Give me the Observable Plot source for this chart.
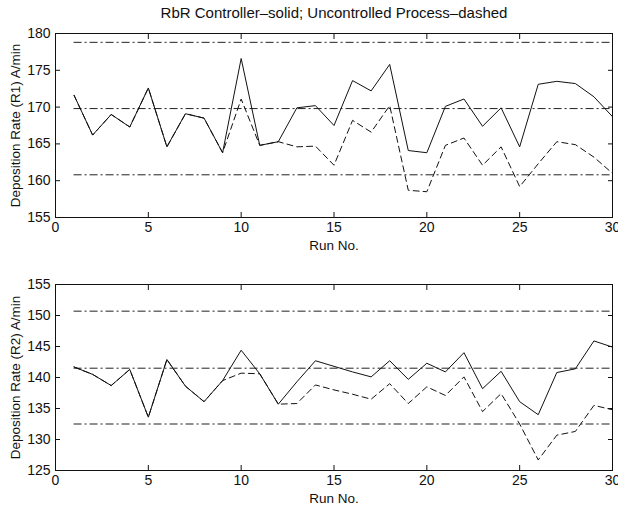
<!DOCTYPE html>
<html><head><meta charset="utf-8">
<script src="https://cdn.jsdelivr.net/npm/d3@7"></script>
<script src="https://cdn.jsdelivr.net/npm/@observablehq/plot@0.6"></script>
<style>body{margin:0;background:#fff;} #chart svg{display:block;overflow:visible;}</style>
</head><body><div id="chart"></div>
<script>
const title = "RbR Controller\u2013solid; Uncontrolled Process\u2013dashed";
const xLabel = "Run No.";
const runs = [1,2,3,4,5,6,7,8,9,10,11,12,13,14,15,16,17,18,19,20,21,22,23,24,25,26,27,28,29,30];
const xTicks = [0,5,10,15,20,25,30];

const r1Label = "Deposition Rate (R1) A/min";
const r1Ticks = [155,160,165,170,175,180];
const r1Controlled = [171.6,166.2,169.0,167.3,172.6,164.6,169.1,168.5,163.8,176.6,164.8,165.3,169.9,170.2,167.5,173.6,172.2,175.8,164.1,163.8,170.1,171.1,167.4,169.9,164.6,173.1,173.5,173.2,171.4,168.7];
const r1Uncontrolled = [171.6,166.2,169.0,167.3,172.6,164.6,169.1,168.5,163.8,171.1,164.8,165.3,164.6,164.7,162.1,168.2,166.6,170.2,158.7,158.5,164.8,165.8,162.1,164.6,159.2,162.3,165.3,164.9,163.2,161.0];
const r1Limits = [178.8,169.8,160.8];

const r2Label = "Deposition Rate (R2) A/min";
const r2Ticks = [125,130,135,140,145,150,155];
const r2Controlled = [141.7,140.5,138.7,141.3,133.6,142.9,138.6,136.1,139.5,144.4,140.6,135.7,139.3,142.7,141.8,140.9,140.1,142.7,139.7,142.3,140.9,144.0,138.2,141.0,136.1,134.0,140.8,141.4,145.9,144.9];
const r2Uncontrolled = [141.7,140.5,138.7,141.3,133.6,142.9,138.6,136.1,139.5,140.7,140.6,135.7,135.8,138.8,138.0,137.3,136.5,139.0,135.8,138.5,137.1,140.1,134.5,137.4,132.5,126.7,130.7,131.3,135.5,134.8];
const r2Limits = [150.7,141.5,132.5];

function panel({yTicks, controlled, uncontrolled, limits, yLabel, heading, height, marginTop, marginBottom}) {
  const ctl = runs.map((r, i) => ({run: r, value: controlled[i]}));
  const unc = runs.map((r, i) => ({run: r, value: uncontrolled[i]}));
  const ink = "#111";
  return Plot.plot({
    width: 618, height, marginLeft: 55, marginRight: 6, marginTop, marginBottom,
    style: {fontFamily: "'Liberation Sans', Arial, sans-serif", fontSize: "13px", color: ink, background: "#fff"},
    x: {domain: [xTicks[0], xTicks[xTicks.length - 1]]},
    y: {domain: [yTicks[0], yTicks[yTicks.length - 1]]},
    marks: [
      Plot.ruleY(limits, {y: d => d, x1: runs[0], x2: runs[runs.length - 1], stroke: "#222", strokeWidth: 1, strokeDasharray: "8,3,2,3"}),
      Plot.line(unc, {x: "run", y: "value", stroke: ink, strokeWidth: 1, strokeDasharray: "6,4"}),
      Plot.line(ctl, {x: "run", y: "value", stroke: ink, strokeWidth: 1}),
      Plot.frame({stroke: ink, strokeWidth: 1}),
      Plot.axisX({ticks: xTicks, anchor: "bottom", tickSize: -5, fill: "none", label: null}),
      Plot.axisX({ticks: xTicks, anchor: "top", tickSize: -5, fill: "none", label: null}),
      Plot.axisX({ticks: xTicks, anchor: "bottom", tickSize: 0, tickPadding: 5, label: null, fontSize: 14}),
      Plot.axisY({ticks: yTicks, anchor: "left", tickSize: -5, fill: "none", label: null}),
      Plot.axisY({ticks: yTicks, anchor: "right", tickSize: -5, fill: "none", label: null}),
      Plot.axisY({ticks: yTicks, anchor: "left", tickSize: 0, tickPadding: 5, label: null, fontSize: 14}),
      Plot.text([xLabel], {frameAnchor: "bottom", dy: 28, text: d => d, lineAnchor: "middle", fontSize: 13.5}),
      Plot.text([yLabel], {frameAnchor: "left", dx: -40, rotate: -90, text: d => d, textAnchor: "middle", lineAnchor: "middle", fontSize: 13.5}),
      heading ? Plot.text([heading], {frameAnchor: "top", dy: -20, text: d => d, textAnchor: "middle", lineAnchor: "middle", fontSize: 15}) : null
    ]
  });
}

const root = document.getElementById("chart");
root.append(panel({yTicks: r1Ticks, controlled: r1Controlled, uncontrolled: r1Uncontrolled, limits: r1Limits, yLabel: r1Label, heading: title, height: 258, marginTop: 33, marginBottom: 41}));
root.append(panel({yTicks: r2Ticks, controlled: r2Controlled, uncontrolled: r2Uncontrolled, limits: r2Limits, yLabel: r2Label, heading: null, height: 249, marginTop: 26, marginBottom: 37}));
</script>
</body></html>
